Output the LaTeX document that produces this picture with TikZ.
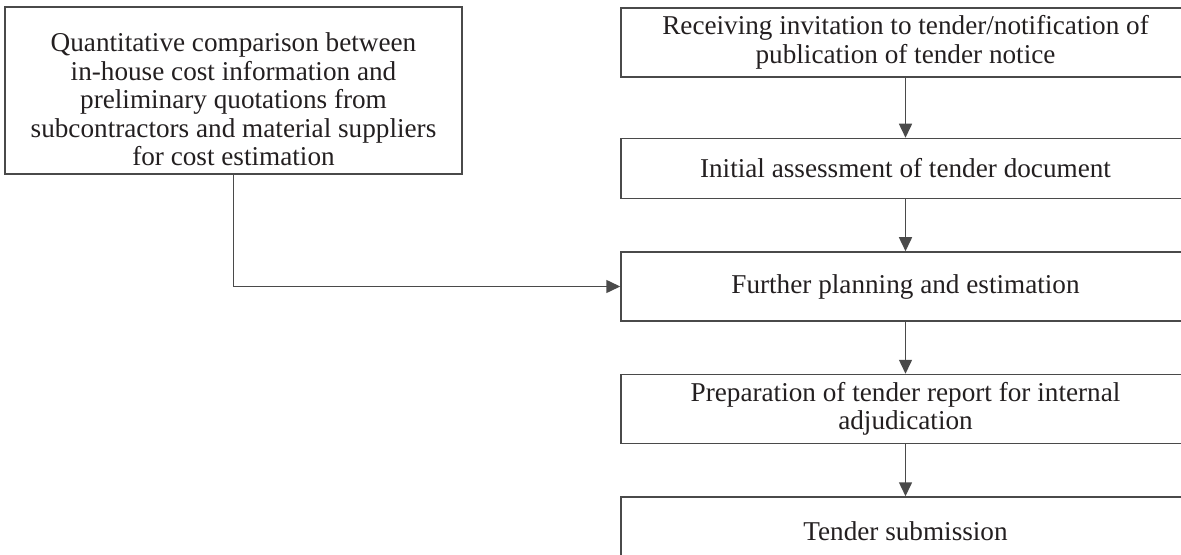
\documentclass[tikz,border=0pt]{standalone}
\usepackage{fontspec}
\setmainfont{Liberation Serif}
\usetikzlibrary{arrows.meta,positioning}
\definecolor{colLine}{HTML}{4A4A4A}
\definecolor{colText}{HTML}{231F20}
\tikzset{
  block/.style={
    draw=colLine, line width=0.75pt,
    align=center, inner sep=0pt, text=colText,
    font=\fontsize{13.6}{14.3}\selectfont
  },
  stepbox/.style={block, minimum width=284.5pt, minimum height=34.5pt},
  inputbox/.style={block, minimum width=228.5pt, minimum height=83.5pt},
  mainarr/.style={
    -{Triangle[length=7pt,width=6.5pt]},
    line width=0.75pt, draw=colLine
  }
}
% extra room above the first line, pushes the text down in its box
\newcommand{\toppad}{\rule{0pt}{18.4pt}}

\begin{document}
\begin{tikzpicture}[
      x=0.5pt, y=-0.5pt,
      node distance = 26pt
  ]
    \useasboundingbox (0,0) rectangle (1181,555);
    \clip (0,0) rectangle (1181,555);

    \node[stepbox] (invite) at (905.5,42.5) {Receiving invitation to tender/notification of\\publication of tender notice};
    \node[stepbox, minimum height=30pt, below=30pt of invite] (assess) {Initial assessment of tender document};
    \node[stepbox, below=of assess] (plan) {Further planning and estimation};
    \node[stepbox, below=of plan] (report) {Preparation of tender report for internal\\adjudication};
    \node[stepbox, below=of report] (submit) {Tender submission};
    \node[inputbox] (quote) at (233.5,90.5) {\toppad Quantitative comparison between\\in-house cost information and\\preliminary quotations from\\subcontractors and material suppliers\\for cost estimation};

    \draw[mainarr] (invite) -- (assess);
    \draw[mainarr] (assess) -- (plan);
    \draw[mainarr] (plan) -- (report);
    \draw[mainarr] (report) -- (submit);
    \draw[mainarr] (quote.south) |- (plan.west);
  \end{tikzpicture}
\end{document}
